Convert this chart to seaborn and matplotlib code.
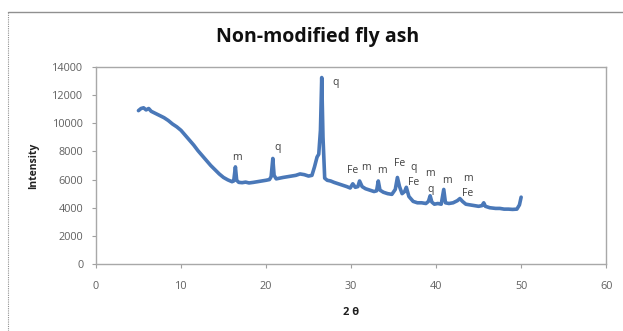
import seaborn as sns
import matplotlib.pyplot as plt
import pandas as pd
from matplotlib.lines import Line2D

# XRD pattern
two_theta = [5.0, 5.3, 5.6, 5.9, 6.2, 6.5, 7.0, 7.5, 8.0, 8.5, 9.0, 9.5, 10.0,
             10.5, 11.0, 11.5, 12.0, 12.5, 13.0, 13.5, 14.0, 14.5, 15.0, 15.5,
             16.0, 16.2, 16.4, 16.55, 16.8, 17.2, 17.6, 18.0, 18.5, 19.0, 19.5,
             20.0, 20.4, 20.6, 20.8, 20.95, 21.2, 21.6, 22.0, 22.5, 23.0, 23.5,
             24.0, 24.5, 25.0, 25.4, 25.7, 26.0, 26.2, 26.4, 26.55, 26.7, 26.9,
             27.2, 27.6, 28.0, 28.5, 29.0, 29.5, 29.9, 30.2, 30.5, 30.8, 31.0,
             31.3, 31.7, 32.2, 32.7, 33.0, 33.2, 33.4, 33.8, 34.3, 34.8, 35.2,
             35.45, 35.7, 36.0, 36.3, 36.5, 36.8, 37.3, 37.8, 38.3, 38.8, 39.1,
             39.3, 39.5, 39.8, 40.2, 40.6, 40.9, 41.1, 41.5, 42.0, 42.5, 42.8,
             43.1, 43.5, 44.0, 44.5, 45.0, 45.4, 45.6, 45.8, 46.3, 47.0, 47.5,
             48.0, 48.5, 49.0, 49.5, 49.8, 50.0]
intensity = [10900, 11050, 11100, 10950, 11050, 10850, 10700, 10550, 10400,
             10200, 9950, 9750, 9500, 9150, 8800, 8450, 8050, 7700, 7350, 7000,
             6700, 6400, 6150, 5980, 5850, 5900, 6900, 5950, 5800, 5780, 5820,
             5760, 5800, 5850, 5900, 5950, 6000, 6200, 7500, 6300, 6050, 6100,
             6150, 6200, 6250, 6300, 6400, 6350, 6250, 6300, 6900, 7600, 7800,
             9500, 13250, 9000, 6100, 5950, 5900, 5800, 5700, 5600, 5500, 5400,
             5700, 5450, 5500, 5900, 5500, 5350, 5250, 5150, 5200, 5900, 5250,
             5100, 5000, 4950, 5300, 6150, 5500, 5000, 5150, 5450, 4800, 4450,
             4350, 4350, 4300, 4450, 4850, 4400, 4250, 4300, 4250, 5300, 4350,
             4300, 4350, 4500, 4650, 4450, 4250, 4200, 4150, 4100, 4150, 4350,
             4100, 4000, 3950, 3950, 3900, 3900, 3880, 3900, 4200, 4750]

# phase labels (m = mullite, q = quartz, Fe = iron oxide)
peak_labels = ['m', 'q', 'q', 'Fe', 'm', 'm', 'Fe', 'q', 'Fe', 'm', 'q', 'm', 'm', 'Fe']
label_x = [16.6, 21.3, 28.2, 30.2, 31.7, 33.6, 35.7, 37.3, 37.3, 39.3, 39.3, 41.3, 43.7, 43.7]
label_y = [7600, 8300, 12930, 6680, 6870, 6680, 7110, 6870, 5780, 6450, 5310, 5920, 6090, 4980]

df = pd.DataFrame({'two_theta': two_theta, 'intensity': intensity})

sns.set_style('white')
plt.rcParams['font.family'] = ['Open Sans', 'DejaVu Sans']

fig = plt.figure(figsize=(6.23, 3.31), dpi=100)
ax = fig.add_axes([0.154, 0.2024, 0.819, 0.5952])

sns.lineplot(data=df, x='two_theta', y='intensity', color='#4a78b8',
             linewidth=2.6, ax=ax)

for t, x, y in zip(peak_labels, label_x, label_y):
    ax.text(x, y, t, ha='center', va='center', fontsize=7.5, color='#404040')

ax.set_xlim(0, 60)
ax.set_ylim(0, 14000)
ax.set_xticks(range(0, 61, 10))
ax.set_yticks(range(0, 14001, 2000))
ax.tick_params(axis='both', labelsize=7.8, labelcolor='#606060', color='#a0a0a0',
               length=3, width=0.8, direction='out', bottom=True, left=True)
ax.tick_params(axis='x', pad=9)
ax.tick_params(axis='y', pad=6)
for s in ax.spines.values():
    s.set_color('#a8a8a8')
    s.set_linewidth(1)

ax.set_xlabel('2 \u03b8', fontsize=8, fontweight='bold', color='#202020', va='center')
ax.set_ylabel('Intensity', fontsize=7.5, fontweight='bold', color='#202020', va='center')
ax.xaxis.set_label_coords(0.5, -0.246)
ax.yaxis.set_label_coords(-0.1216, 0.5)
fig.text(0.51, 0.887, 'Non-modified fly ash', ha='center', va='center',
         fontsize=14, fontweight='bold', color='#101010')

# outer chart frame
fig.add_artist(Line2D([8 / 623, 1], [1 - 12 / 331, 1 - 12 / 331],
                      transform=fig.transFigure, color='#909090', linewidth=1))
fig.add_artist(Line2D([8 / 623, 8 / 623], [0, 1 - 12 / 331],
                      transform=fig.transFigure, color='#909090', linewidth=0.8,
                      linestyle=(0, (1, 1))))

fig.savefig('out.png', dpi=100)
